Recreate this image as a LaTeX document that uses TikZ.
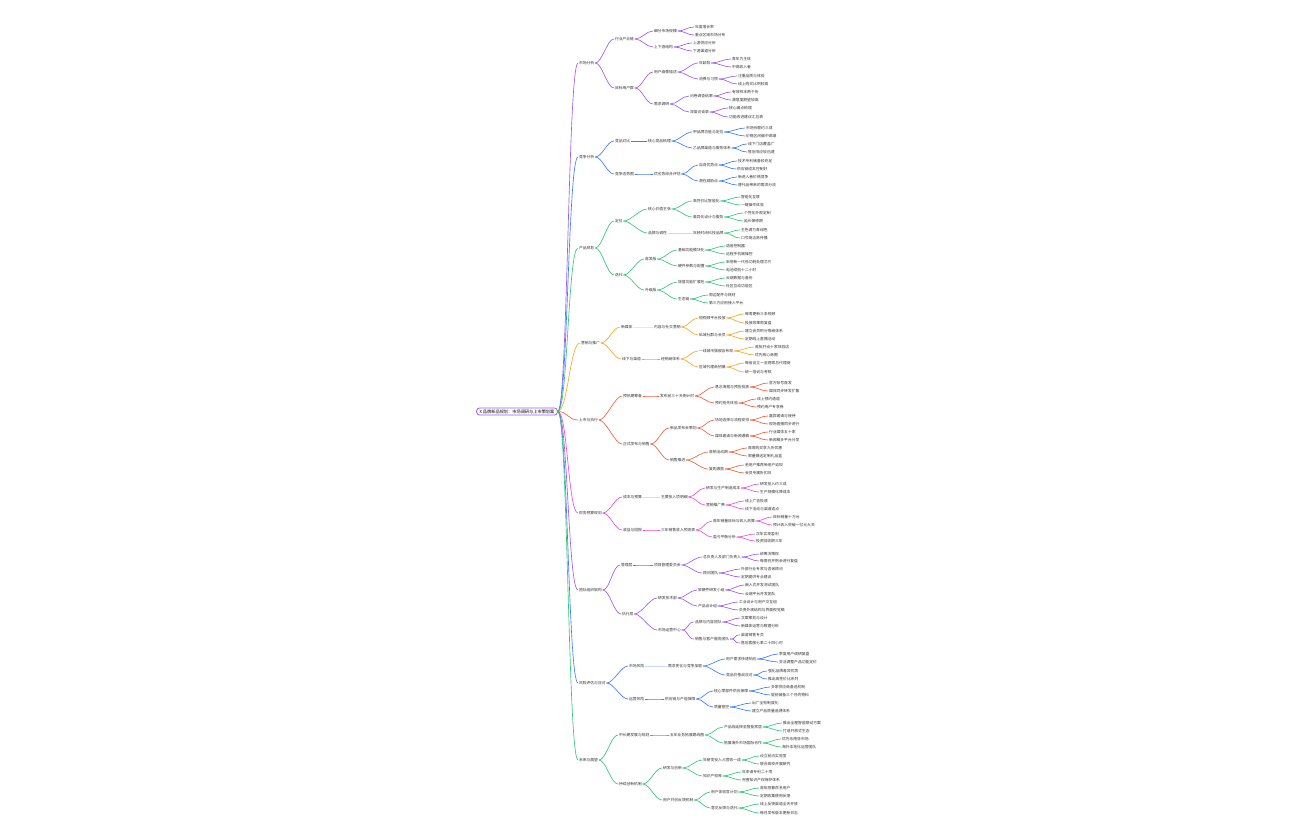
\documentclass[tikz,border=0pt]{standalone}
\usepackage{fontspec}
\setmainfont{Noto Sans CJK SC}
\definecolor{cpur}{HTML}{9B5DF5}
\definecolor{cblu}{HTML}{3F7EF6}
\definecolor{cgrn}{HTML}{34C77B}
\definecolor{corg}{HTML}{F5A72A}
\definecolor{cred}{HTML}{F5603C}
\definecolor{cmag}{HTML}{EE4FD8}
\tikzset{
  txt/.style={font=\fontsize{3.8}{4}\selectfont, inner sep=0.8pt, anchor=west, text=black!80},
  rootbox/.style={draw=cpur, line width=0.8pt, rounded corners=3pt, fill=white,
    font=\fontsize{4.2}{5}\selectfont, inner xsep=3pt, inner ysep=1.6pt, text=black},
  lk/.style={line width=0.65pt, line cap=round},
}
\begin{document}
\begin{tikzpicture}[x=1pt,y=-1pt]
  \useasboundingbox (0,0) rectangle (1296,840);
  \fill[white] (0,0) rectangle (1296,840);

  % root
  \node[rootbox] (root) at (517,411.5) {X 品牌新品规划：市场调研与上市策划案};

  % branch a
  \node[txt] (a) at (578,63) {市场分析};
  \node[txt] (a1) at (614,39) {行业产业链};
  \node[txt] (a11) at (653,31) {细分市场规模};
  \node[txt] (a111) at (694,27) {年度增长率};
  \node[txt] (a112) at (694,35) {重点区域市场分布};
  \node[txt] (a12) at (653,47) {上下游结构};
  \node[txt] (a121) at (692,43) {上游供应分析};
  \node[txt] (a122) at (692,51) {下游渠道分析};
  \node[txt] (a2) at (614,88) {目标用户群};
  \node[txt] (a21) at (653,72) {用户画像描述};
  \node[txt] (a211) at (698,63) {年龄段};
  \node[txt] (a2111) at (731,59) {青年为主体};
  \node[txt] (a2112) at (731,67) {中高收入者};
  \node[txt] (a212) at (698,79) {消费与习惯};
  \node[txt] (a2121) at (737,76) {注重品质与体验};
  \node[txt] (a2122) at (737,84) {线上购买比例较高};
  \node[txt] (a22) at (653,104) {需求调研};
  \node[txt] (a221) at (689,96) {问卷调查结果};
  \node[txt] (a2211) at (731,92) {有效样本两千份};
  \node[txt] (a2212) at (731,100) {满意度期望较高};
  \node[txt] (a222) at (689,112) {深度访谈录};
  \node[txt] (a2221) at (728,108) {核心痛点梳理};
  \node[txt] (a2222) at (728,117) {功能改进建议汇总表};

  % branch b
  \node[txt] (b) at (578,157) {竞争分析};
  \node[txt] (b1) at (614,141) {竞品对比};
  \node[txt] (b11) at (647,141) {核心竞品梳理};
  \node[txt] (b111) at (692,132) {甲品牌功能与定位};
  \node[txt] (b1111) at (745,128) {市场份额约三成};
  \node[txt] (b1112) at (745,136) {价格区间偏中高端};
  \node[txt] (b112) at (692,148) {乙品牌渠道与服务体系};
  \node[txt] (b1121) at (747,144) {线下门店覆盖广};
  \node[txt] (b1122) at (747,152) {售后响应较迅速};
  \node[txt] (b2) at (614,174) {竞争态势图};
  \node[txt] (b21) at (653,174) {优劣势综合评估};
  \node[txt] (b211) at (698,165) {自身优势点};
  \node[txt] (b2111) at (737,161) {技术专利储备较充足};
  \node[txt] (b2112) at (736,169) {供应链成本控制好};
  \node[txt] (b212) at (698,181) {潜在威胁点};
  \node[txt] (b2121) at (737,177) {新进入者价格竞争};
  \node[txt] (b2122) at (737,185) {替代品带来的需求分流};

  % branch c
  \node[txt] (c) at (578,248) {产品规划};
  \node[txt] (c1) at (614,221) {定位};
  \node[txt] (c11) at (647,209) {核心价值主张};
  \node[txt] (c111) at (692,201) {高性价比智能化};
  \node[txt] (c1111) at (740,197) {智能化互联};
  \node[txt] (c1112) at (740,205) {一键操作体验};
  \node[txt] (c112) at (692,217) {差异化设计与服务};
  \node[txt] (c1121) at (743,213) {个性化外观定制};
  \node[txt] (c1122) at (743,221) {延长保修期};
  \node[txt] (c12) at (647,233) {品牌与调性};
  \node[txt] (c121) at (692,233) {年轻时尚科技品牌};
  \node[txt] (c1211) at (740,230) {主色调为青绿色};
  \node[txt] (c1212) at (740,238) {口号简洁易传播};
  \node[txt] (c2) at (614,275) {迭代};
  \node[txt] (c21) at (644,259) {首发版};
  \node[txt] (c211) at (677,250) {基础功能模块化};
  \node[txt] (c2111) at (725,246) {语音控制器};
  \node[txt] (c2112) at (725,254) {远程手机端操控};
  \node[txt] (c212) at (677,266) {硬件参数与配置};
  \node[txt] (c2121) at (725,262) {采用新一代低功耗处理芯片};
  \node[txt] (c2122) at (725,270) {电池续航十二小时};
  \node[txt] (c22) at (644,290) {升级版};
  \node[txt] (c221) at (677,282) {增值功能扩展包};
  \node[txt] (c2211) at (725,278) {云端数据与备份};
  \node[txt] (c2212) at (725,286) {社区互动功能区};
  \node[txt] (c222) at (677,299) {生态链};
  \node[txt] (c2221) at (708,295) {周边配件与耗材};
  \node[txt] (c2222) at (708,303) {第三方应用接入平台};

  % branch d
  \node[txt] (d) at (580,343) {营销与推广};
  \node[txt] (d1) at (620,327) {新媒体};
  \node[txt] (d11) at (653,327) {内容与社交营销};
  \node[txt] (d111) at (698,318) {短视频平台投放};
  \node[txt] (d1111) at (744,314) {每周更新三条视频};
  \node[txt] (d1112) at (744,323) {投放效果周复盘};
  \node[txt] (d112) at (698,335) {私域社群与会员};
  \node[txt] (d1121) at (744,331) {建立会员积分等级体系};
  \node[txt] (d1122) at (744,339) {定期线上直播活动};
  \node[txt] (d2) at (621,359) {线下与渠道};
  \node[txt] (d21) at (660,359) {经销商体系};
  \node[txt] (d211) at (698,351) {一线城市旗舰店布局};
  \node[txt] (d2111) at (754,347) {首批开设十家体验店};
  \node[txt] (d2112) at (754,355) {优先核心商圈};
  \node[txt] (d212) at (698,367) {区域代理商招募};
  \node[txt] (d2121) at (744,363) {每省设立一至两家总代理商};
  \node[txt] (d2122) at (744,372) {统一培训与考核};

  % branch e
  \node[txt] (e) at (578,420) {上市与执行};
  \node[txt] (e1) at (622,396) {预热期筹备};
  \node[txt] (e11) at (659,396) {发布前三十天倒计时};
  \node[txt] (e111) at (714,387) {悬念海报与预告投放};
  \node[txt] (e1111) at (768,383) {官方账号首发};
  \node[txt] (e1112) at (768,391) {媒体同步转发扩散};
  \node[txt] (e112) at (714,403) {预约抢先体验};
  \node[txt] (e1121) at (756,399) {线上预约通道};
  \node[txt] (e1122) at (756,407) {预约用户专享券};
  \node[txt] (e2) at (622,444) {正式发布与销售};
  \node[txt] (e21) at (669,428) {新品发布会策划};
  \node[txt] (e211) at (714,420) {场地选择与流程安排};
  \node[txt] (e2111) at (768,416) {嘉宾邀请与接待};
  \node[txt] (e2112) at (768,424) {现场直播同步进行};
  \node[txt] (e212) at (714,436) {媒体邀请与新闻通稿};
  \node[txt] (e2121) at (768,432) {行业媒体五十家};
  \node[txt] (e2122) at (768,440) {新闻稿多平台分发};
  \node[txt] (e22) at (669,460) {销售推进};
  \node[txt] (e221) at (708,452) {首销活动期};
  \node[txt] (e2211) at (747,448) {首周购买享九折优惠};
  \node[txt] (e2212) at (747,456) {限量赠送定制礼品盒};
  \node[txt] (e222) at (708,469) {复购激励};
  \node[txt] (e2221) at (744,465) {老用户推荐新用户返现};
  \node[txt] (e2222) at (744,473) {会员专属折扣日};

  % branch f
  \node[txt] (f) at (578,513) {财务预算规划};
  \node[txt] (f1) at (622,497) {成本与预算};
  \node[txt] (f11) at (660,497) {主要投入项明细};
  \node[txt] (f111) at (705,488) {研发与生产制造成本};
  \node[txt] (f1111) at (759,484) {研发投入约三成};
  \node[txt] (f1112) at (759,492) {生产规模化降成本};
  \node[txt] (f112) at (705,505) {营销推广费};
  \node[txt] (f1121) at (744,501) {线上广告投放};
  \node[txt] (f1122) at (744,509) {线下活动与渠道返点};
  \node[txt] (f2) at (622,530) {收益与回报};
  \node[txt] (f21) at (660,530) {三年销售收入预测表};
  \node[txt] (f211) at (712,521) {首年销量目标与收入测算};
  \node[txt] (f2111) at (772,517) {目标销量十万台};
  \node[txt] (f2112) at (772,525) {预计收入突破一亿元大关};
  \node[txt] (f212) at (712,537) {盈亏平衡分析};
  \node[txt] (f2121) at (755,534) {次年实现盈利};
  \node[txt] (f2122) at (755,541) {投资回收期三年};

  % branch g
  \node[txt] (g) at (578,590) {团队组织架构};
  \node[txt] (g1) at (620,565) {管理层};
  \node[txt] (g11) at (653,565) {项目管理委员会};
  \node[txt] (g111) at (702,557) {总负责人及部门负责人};
  \node[txt] (g1111) at (759,554) {统筹决策权};
  \node[txt] (g1112) at (759,561) {每周召开例会进行复盘};
  \node[txt] (g112) at (702,573) {顾问团队};
  \node[txt] (g1121) at (740,569) {外部行业专家与咨询顾问};
  \node[txt] (g1122) at (740,577) {定期提供专业建议};
  \node[txt] (g2) at (621,614) {执行层};
  \node[txt] (g21) at (657,598) {研发技术部};
  \node[txt] (g211) at (697,590) {软硬件研发小组};
  \node[txt] (g2111) at (744,585) {嵌入式开发测试团队};
  \node[txt] (g2112) at (744,594) {云端平台开发团队};
  \node[txt] (g212) at (697,606) {产品设计组};
  \node[txt] (g2121) at (738,602) {工业设计与用户交互组};
  \node[txt] (g2122) at (738,610) {负责外观结构与界面视觉稿};
  \node[txt] (g22) at (657,630) {市场运营中心};
  \node[txt] (g221) at (694,622) {品牌与内容团队};
  \node[txt] (g2211) at (740,618) {文案策划与设计};
  \node[txt] (g2212) at (740,626) {新媒体运营与数据分析};
  \node[txt] (g222) at (694,639) {销售与客户服务团队};
  \node[txt] (g2221) at (740,635) {渠道销售专员};
  \node[txt] (g2222) at (740,643) {售后客服七乘二十四小时};

  % branch h
  \node[txt] (h) at (578,683) {风险评估与应对};
  \node[txt] (h1) at (628,666) {市场风险};
  \node[txt] (h11) at (667,666) {需求变化与竞争加剧};
  \node[txt] (h111) at (725,659) {用户需求快速响应};
  \node[txt] (h1111) at (778,654) {季度用户调研复盘};
  \node[txt] (h1112) at (778,662) {灵活调整产品功能定价};
  \node[txt] (h112) at (725,675) {竞品价格战应对};
  \node[txt] (h1121) at (767,671) {强化品牌差异优势};
  \node[txt] (h1122) at (767,679) {推出高性价比系列};
  \node[txt] (h2) at (628,699) {运营风险};
  \node[txt] (h21) at (664,699) {供应链与产能保障};
  \node[txt] (h211) at (713,691) {核心零部件供应保障};
  \node[txt] (h2111) at (770,687) {多家供应商备选机制};
  \node[txt] (h2112) at (770,695) {提前储备三个月的物料};
  \node[txt] (h212) at (713,707) {质量管控};
  \node[txt] (h2121) at (751,703) {出厂全检制度化};
  \node[txt] (h2122) at (751,711) {建立产品质量追溯体系};

  % branch i
  \node[txt] (i) at (578,760) {未来与展望};
  \node[txt] (i1) at (618,735) {中长期发展与规划};
  \node[txt] (i11) at (669,735) {五年业务拓展路线图};
  \node[txt] (i111) at (723,727) {产品线延伸至智能家居};
  \node[txt] (i1111) at (782,723) {推出全屋智能联动方案};
  \node[txt] (i1112) at (782,731) {打造开放式生态};
  \node[txt] (i112) at (723,743) {拓展海外市场国际合作};
  \node[txt] (i1121) at (781,739) {优先东南亚市场};
  \node[txt] (i1122) at (781,747) {海外本地化运营团队};
  \node[txt] (i2) at (618,784) {持续创新机制};
  \node[txt] (i21) at (662,768) {研发与创新};
  \node[txt] (i211) at (702,760) {年研发投入占营收一成};
  \node[txt] (i2111) at (759,756) {设立前沿实验室};
  \node[txt] (i2112) at (759,764) {联合高校开展研究};
  \node[txt] (i212) at (702,776) {知识产权库};
  \node[txt] (i2121) at (741,772) {年申请专利二十项};
  \node[txt] (i2122) at (741,780) {完善知识产权保护体系};
  \node[txt] (i22) at (662,800) {用户共创反馈机制};
  \node[txt] (i221) at (710,792) {用户体验官计划};
  \node[txt] (i2211) at (759,788) {首批招募百名用户};
  \node[txt] (i2212) at (759,796) {定期收集使用反馈};
  \node[txt] (i222) at (710,808) {意见反馈与迭代};
  \node[txt] (i2221) at (759,804) {线上反馈渠道全天开放};
  \node[txt] (i2222) at (759,813) {每月发布版本更新日志};

  % root links
  \foreach \c/\col in {a/cpur, b/cblu, c/cgrn, d/corg, e/cred, f/cmag, g/cpur, h/cblu, i/cgrn}
    \draw[lk, \col] (root.east) .. controls +(10,0) and +(-10,0) .. (\c.west);

  % branch links
  \foreach \p/\c in {a/a1, a/a2, a1/a11, a1/a12, a11/a111, a11/a112,
      a12/a121, a12/a122, a2/a21, a2/a22, a21/a211, a21/a212, a211/a2111,
      a211/a2112, a212/a2121, a212/a2122, a22/a221, a22/a222, a221/a2211,
      a221/a2212, a222/a2221, a222/a2222,
      g/g1, g/g2, g1/g11, g11/g111, g11/g112, g111/g1111, g111/g1112,
      g112/g1121, g112/g1122, g2/g21, g2/g22, g21/g211, g21/g212, g211/g2111,
      g211/g2112, g212/g2121, g212/g2122, g22/g221, g22/g222, g221/g2211,
      g221/g2212, g222/g2221, g222/g2222}
    \draw[lk, cpur] (\p.east) .. controls +(7,0) and +(-7,0) .. (\c.west);
  \foreach \p/\c in {b/b1, b/b2, b1/b11, b11/b111, b11/b112,
      b111/b1111, b111/b1112, b112/b1121, b112/b1122, b2/b21, b21/b211,
      b21/b212, b211/b2111, b211/b2112, b212/b2121, b212/b2122,
      h/h1, h/h2, h11/h111, h11/h112, h111/h1111, h111/h1112,
      h112/h1121, h112/h1122, h2/h21, h21/h211, h21/h212, h211/h2111,
      h211/h2112, h212/h2121, h212/h2122}
    \draw[lk, cblu] (\p.east) .. controls +(7,0) and +(-7,0) .. (\c.west);
  \foreach \p/\c in {c/c1, c/c2, c1/c11, c1/c12, c11/c111, c11/c112,
      c111/c1111, c111/c1112, c112/c1121, c112/c1122, c121/c1211, c121/c1212,
      c2/c21, c2/c22, c21/c211, c21/c212, c211/c2111, c211/c2112, c212/c2121,
      c212/c2122, c22/c221, c22/c222, c221/c2211, c221/c2212, c222/c2221,
      c222/c2222,
      i/i1, i/i2, i1/i11, i11/i111, i11/i112, i111/i1111, i111/i1112,
      i112/i1121, i112/i1122, i2/i21, i2/i22, i21/i211, i21/i212, i211/i2111,
      i211/i2112, i212/i2121, i212/i2122, i22/i221, i22/i222, i221/i2211,
      i221/i2212, i222/i2221, i222/i2222}
    \draw[lk, cgrn] (\p.east) .. controls +(7,0) and +(-7,0) .. (\c.west);
  \foreach \p/\c in {d/d1, d/d2, d11/d111, d11/d112, d111/d1111,
      d111/d1112, d112/d1121, d112/d1122, d2/d21, d21/d211, d21/d212,
      d211/d2111, d211/d2112, d212/d2121, d212/d2122}
    \draw[lk, corg] (\p.east) .. controls +(7,0) and +(-7,0) .. (\c.west);
  \foreach \p/\c in {e/e1, e/e2, e1/e11, e11/e111, e11/e112,
      e111/e1111, e111/e1112, e112/e1121, e112/e1122, e2/e21, e2/e22,
      e21/e211, e21/e212, e211/e2111, e211/e2112, e212/e2121, e212/e2122,
      e22/e221, e22/e222, e221/e2211, e221/e2212, e222/e2221, e222/e2222}
    \draw[lk, cred] (\p.east) .. controls +(7,0) and +(-7,0) .. (\c.west);
  \foreach \p/\c in {f/f1, f/f2, f11/f111, f11/f112, f111/f1111,
      f111/f1112, f112/f1121, f112/f1122, f2/f21, f21/f211, f21/f212,
      f211/f2111, f211/f2112, f212/f2121, f212/f2122}
    \draw[lk, cmag] (\p.east) .. controls +(7,0) and +(-7,0) .. (\c.west);
  % pale single links
  \draw[lk, cgrn!35] (c12) -- (c121);
  \draw[lk, corg!30] (d1) -- (d11);
  \draw[lk, cmag!30] (f1) -- (f11);
  \draw[lk, cblu!30] (h1) -- (h11);
\end{tikzpicture}
\end{document}
